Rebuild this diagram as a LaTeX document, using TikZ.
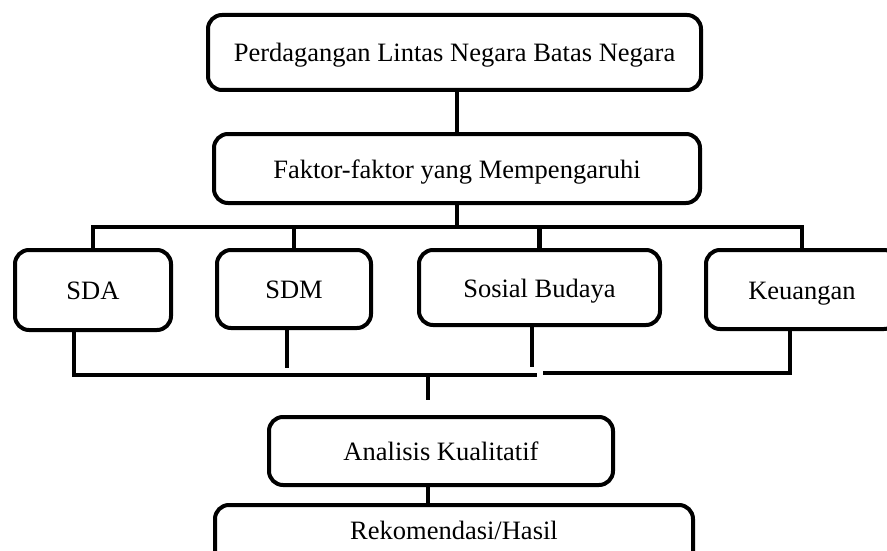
\documentclass[tikz,border=0pt]{standalone}
\usepackage{fontspec}
\setmainfont{Liberation Serif}
\begin{document}
\begin{tikzpicture}[x=1pt,y=-1pt,
  box/.style={draw=black, line width=4pt, rounded corners=14pt, fill=white,
    inner sep=0pt, anchor=center, text height=19pt, text depth=0pt,
    font=\fontsize{26.5}{30}\selectfont},
  conn/.style={draw=black, line width=4.5pt}]
\useasboundingbox[fill=white] (0,0) rectangle (887,551);
\node[box, minimum width=493pt, minimum height=75pt] (top) at (454.5,52.5) {Perdagangan Lintas Negara Batas Negara};
\node[box, minimum width=486pt, minimum height=69pt] (fak) at (457,168.5) {Faktor-faktor yang Mempengaruhi};
\node[box, minimum width=156pt, minimum height=80pt] (sda) at (93,290) {SDA};
\node[box, minimum width=154pt, minimum height=78pt] (sdm) at (294,289) {SDM};
\node[box, minimum width=241pt, minimum height=75pt] (sos) at (539.5,287.5) {Sosial Budaya};
\node[box, minimum width=192pt, minimum height=79pt] (keu) at (802,289.5) {Keuangan};
\node[box, minimum width=344pt, minimum height=68pt] (ana) at (441,451) {Analisis Kualitatif};
\node[box, minimum width=478pt, minimum height=70pt,
  label={[font=\fontsize{26.5}{30}\selectfont, yshift=10pt]center:Rekomendasi/Hasil}] (rek) at (454,540) {};
% top connectors
\draw[conn] (fak.north) -- (fak.north |- top.south);
\coordinate (b1) at (457,227);
\draw[conn] (fak.south) -- (b1);
\draw[conn] (sda.north) -- (sda.north |- b1) -- (keu.north |- b1) -- (keu.north);
\draw[conn] (sdm.north) -- (sdm.north |- b1);
\draw[conn] (sos.north) -- (sos.north |- b1);
% bottom connectors
\coordinate (barL) at (537,375);
\coordinate (barR0) at (543,373);
\coordinate (barR) at (790,373);
\coordinate (bc) at (428,375);
\draw[conn] ([xshift=-19pt]sda.south) |- (barL);
\draw[conn] (barR0) -- (barR) -- ([xshift=-12pt]keu.south);
\draw[conn] ([xshift=-7pt]sdm.south) -- ++(0,38);
\draw[conn] ([xshift=-7.5pt]sos.south) -- ++(0,40);
\draw[conn] (bc) -- ++(0,25);
\draw[conn] ([xshift=-13pt]ana.south) -- ([xshift=-13pt]ana.south |- rek.north);
\end{tikzpicture}
\end{document}
